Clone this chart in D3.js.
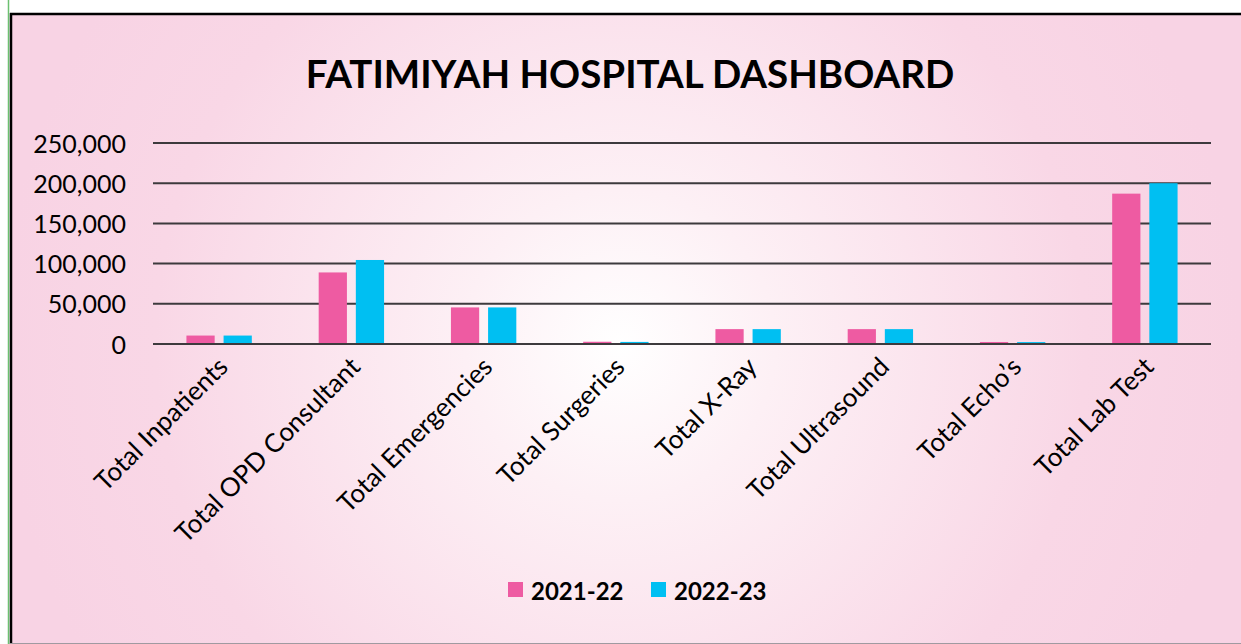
<!DOCTYPE html>
<html>
<head>
<meta charset="utf-8">
<script src="https://cdn.jsdelivr.net/npm/d3@7"></script>
<style>
  html, body { margin: 0; padding: 0; background: #ffffff; }
  svg { display: block; }
  text { font-family: Lato, "Open Sans", sans-serif; fill: #000; }
</style>
</head>
<body>
<svg id="chart" width="1241" height="644"></svg>
<script>
const categories = ["Total Inpatients", "Total OPD Consultant", "Total Emergencies", "Total Surgeries",
                    "Total X-Ray", "Total Ultrasound", "Total Echo\u2019s", "Total Lab Test"];
const seriesNames = ["2021-22", "2022-23"];
const values2021 = [10500, 89000, 45500, 2800, 18500, 18500, 2500, 187000];
const values2022 = [10500, 104500, 45500, 2600, 18500, 18500, 2400, 200000];
const yTicks = [0, 50000, 100000, 150000, 200000, 250000];
const title = "FATIMIYAH HOSPITAL DASHBOARD";

const colors = {"2021-22": "#EE5BA2", "2022-23": "#00BFF2"};
const seriesValues = {"2021-22": values2021, "2022-23": values2022};

const W = 1241, H = 644;
const svg = d3.select("#chart");
const defs = svg.append("defs");

const grad = defs.append("radialGradient")
  .attr("id", "bg").attr("gradientUnits", "userSpaceOnUse")
  .attr("cx", 620).attr("cy", 345).attr("r", 620);
grad.append("stop").attr("offset", 0).attr("stop-color", "#ffffff");
grad.append("stop").attr("offset", 0.25).attr("stop-color", "#fdf0f5");
grad.append("stop").attr("offset", 0.75).attr("stop-color", "#f9d7e6");
grad.append("stop").attr("offset", 1).attr("stop-color", "#f8d3e4");

// white strip & frame
svg.append("rect").attr("x", 0).attr("y", 0).attr("width", W).attr("height", H).attr("fill", "#ffffff");
svg.append("rect").attr("x", 11).attr("y", 14).attr("width", W - 11).attr("height", H - 14).attr("fill", "url(#bg)");
svg.append("line").attr("x1", 8.5).attr("x2", 8.5).attr("y1", 0).attr("y2", H).attr("stroke", "#6cc070").attr("stroke-width", 1.5);
svg.append("line").attr("x1", 11).attr("x2", 11).attr("y1", 13).attr("y2", H).attr("stroke", "#000").attr("stroke-width", 2.5);
svg.append("line").attr("x1", 10).attr("x2", W).attr("y1", 14).attr("y2", 14).attr("stroke", "#000").attr("stroke-width", 2.5);
svg.append("line").attr("x1", 10).attr("x2", W).attr("y1", 643.5).attr("y2", 643.5).attr("stroke", "#a09aa0").attr("stroke-width", 1);

// title
svg.append("text").attr("x", 630).attr("y", 88).attr("text-anchor", "middle")
  .style("font-weight", 700).style("font-size", "38.5px").text(title);

// scales
const x0 = d3.scaleBand().domain(categories).range([153, 1211]).paddingInner(0).paddingOuter(0);
const x1 = d3.scaleBand().domain(seriesNames).range([0, x0.bandwidth()]).paddingInner(0.24).paddingOuter(0.9);
const y = d3.scaleLinear().domain([0, 250000]).range([344, 143]);

// gridlines
svg.append("g").selectAll("line").data(yTicks).join("line")
  .attr("x1", 153).attr("x2", 1211)
  .attr("y1", d => y(d)).attr("y2", d => y(d))
  .attr("stroke", "#3d3a3d").attr("stroke-width", 2);

// y labels
const yAxis = d3.axisLeft(y).tickValues(yTicks).tickFormat(d3.format(",")).tickSize(0).tickPadding(0);
const gy = svg.append("g").attr("transform", "translate(126,0)").call(yAxis);
gy.select(".domain").remove();
gy.selectAll("text").style("font-size", "25px").style("font-family", "Lato, sans-serif").attr("fill", "#000").attr("dy", "0.36em");

// bars
const groups = svg.append("g").selectAll("g").data(categories).join("g")
  .attr("transform", d => `translate(${x0(d)},0)`);
groups.selectAll("rect").data((c, i) => seriesNames.map(s => ({s, v: seriesValues[s][i]}))).join("rect")
  .attr("x", d => x1(d.s)).attr("width", x1.bandwidth())
  .attr("y", d => y(d.v)).attr("height", d => y(0) - y(d.v) - 1)
  .attr("fill", d => colors[d.s]);

// x labels
const xAxis = d3.axisBottom(x0).tickSize(0).tickPadding(0);
const gx = svg.append("g").attr("transform", "translate(0,0)").call(xAxis);
gx.select(".domain").remove();
gx.selectAll(".tick text")
  .attr("transform", "translate(4,362) rotate(-45)")
  .attr("text-anchor", "end").attr("x", 0).attr("y", 0).attr("dy", "0.35em")
  .style("font-size", "26px").style("font-family", "Lato, sans-serif").attr("fill", "#000");

// legend
const legend = svg.append("g");
const legendX = [508, 651];
seriesNames.forEach((s, i) => {
  legend.append("rect").attr("x", legendX[i]).attr("y", 582).attr("width", 15).attr("height", 15).attr("fill", colors[s]);
  legend.append("text").attr("x", legendX[i] + 23).attr("y", 600)
    .style("font-weight", 700).style("font-size", "24px").text(s);
});
</script>
</body>
</html>
